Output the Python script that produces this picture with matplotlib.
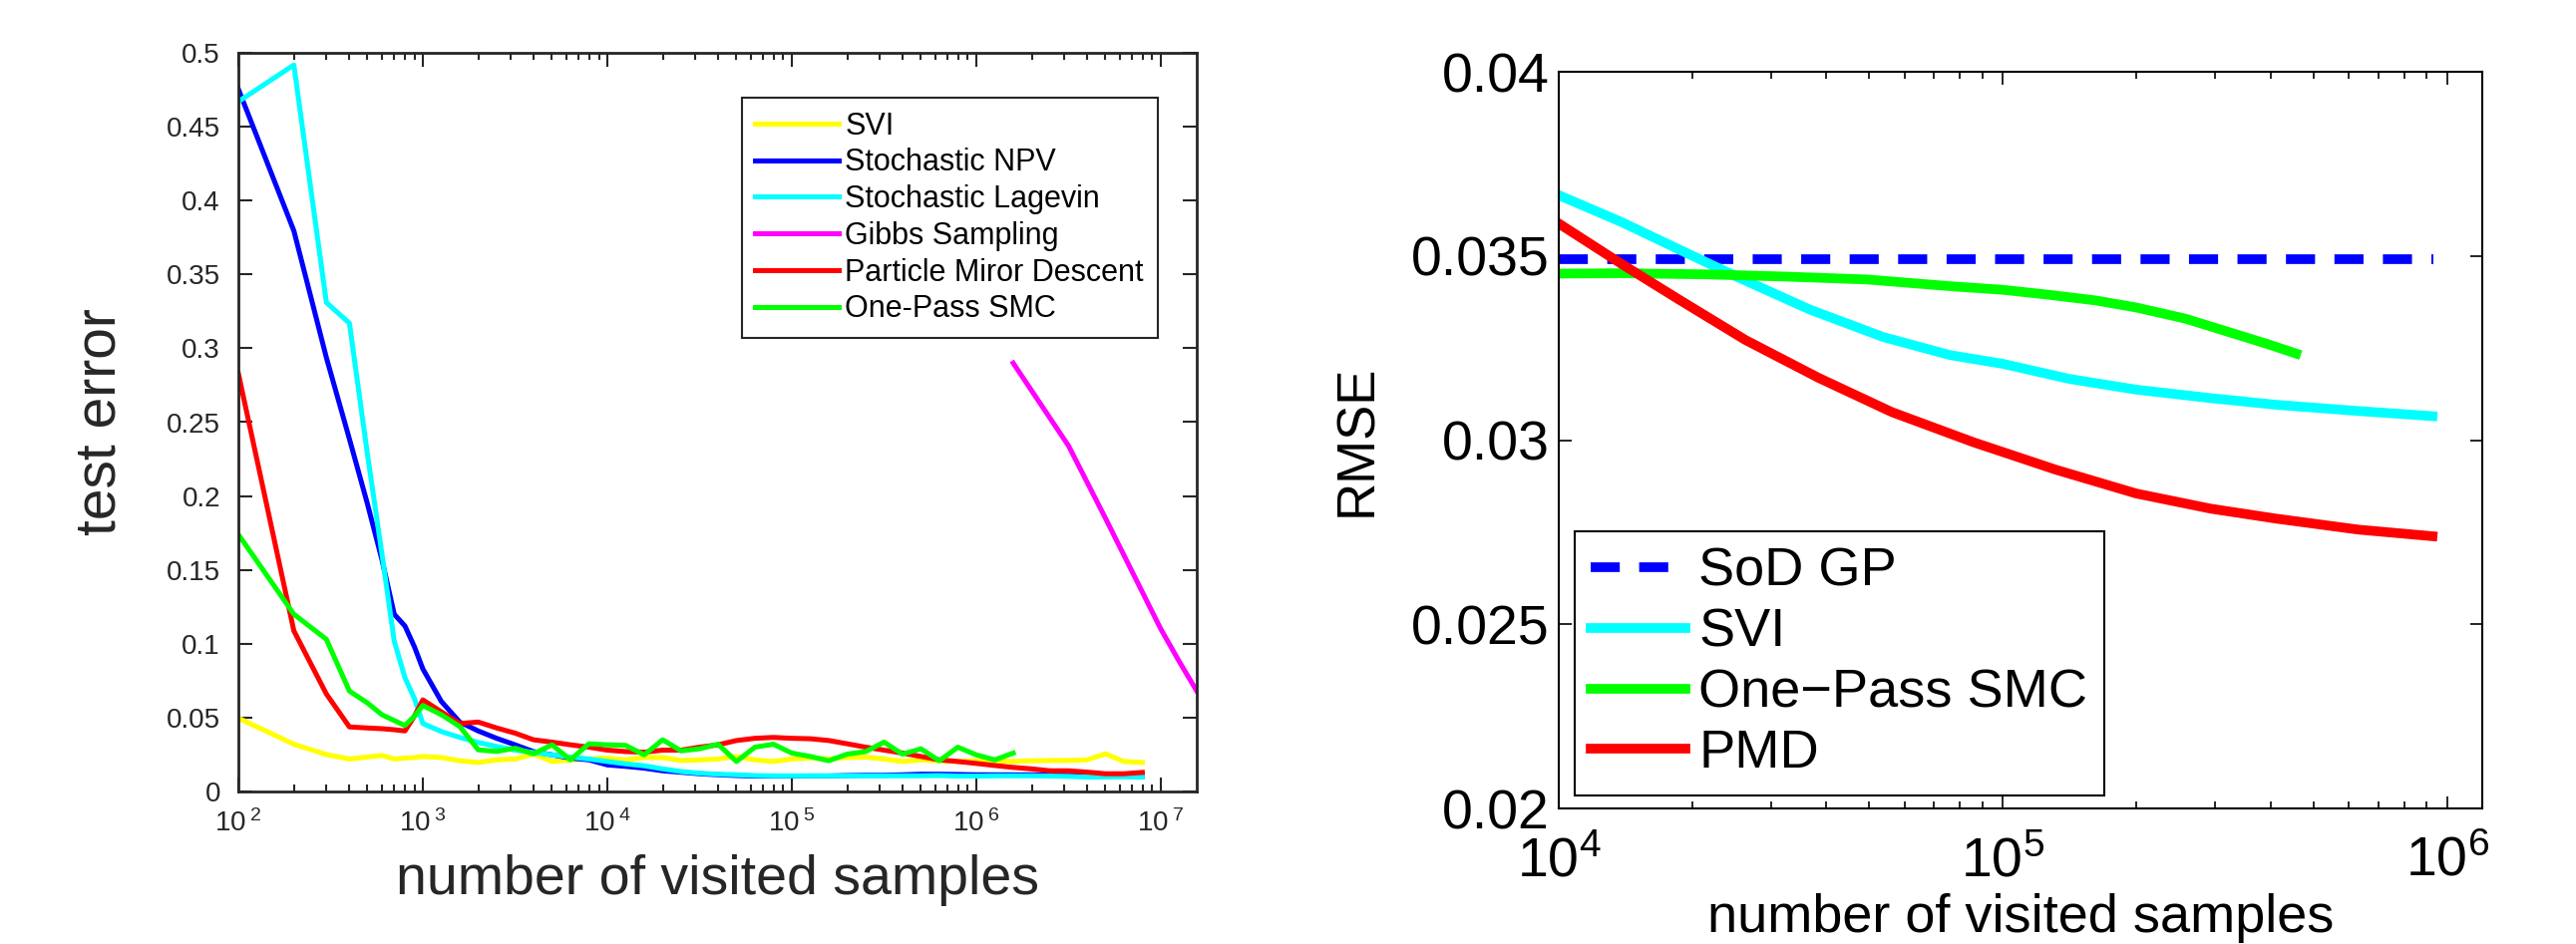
import numpy as np
import matplotlib
matplotlib.use("Agg")
import matplotlib.pyplot as plt
from matplotlib.ticker import LogLocator, FixedLocator, FixedFormatter, NullFormatter

plt.rcParams['font.family'] = ['Liberation Sans', 'DejaVu Sans']
plt.rcParams['mathtext.fontset'] = 'custom'
plt.rcParams['mathtext.rm'] = 'Liberation Sans'
plt.rcParams['mathtext.it'] = 'Liberation Sans'

# ---------- left panel data (test error) ----------
x_lo = [100, 200, 300, 400, 500, 600, 700, 800, 900]
exp_hi = [3.0, 3.1, 3.2, 3.3, 3.4, 3.5, 3.6, 3.7, 3.8, 3.9,
          4.0, 4.1, 4.2, 4.3, 4.4, 4.5, 4.6, 4.7, 4.8, 4.9,
          5.0, 5.1, 5.2, 5.3, 5.4, 5.5, 5.6, 5.7, 5.8, 5.9,
          6.0, 6.1, 6.2, 6.3, 6.4, 6.5, 6.6, 6.7, 6.8, 6.9]

svi_lo = [0.0497, 0.032, 0.025, 0.022, 0.0233, 0.0244, 0.022, 0.0226, 0.023]
svi_hi = [0.0237, 0.023, 0.0208, 0.0196, 0.0214, 0.022, 0.0253, 0.0203, 0.0214, 0.022,
          0.0226, 0.0214, 0.023, 0.023, 0.021, 0.0214, 0.022, 0.0237, 0.0214, 0.0203,
          0.022, 0.0226, 0.022, 0.023, 0.0233, 0.022, 0.0203, 0.0214, 0.0208, 0.0203,
          0.0208, 0.0208, 0.0203, 0.0208, 0.021, 0.021, 0.0214, 0.0255, 0.0203, 0.0196]

npv_lo = [0.4755, 0.3795, 0.2937, 0.2386, 0.195, 0.157, 0.12, 0.112, 0.098]
npv_hi = [0.083, 0.061, 0.047, 0.041, 0.036, 0.0316, 0.027, 0.0248, 0.0226, 0.0214,
          0.018, 0.017, 0.0158, 0.014, 0.013, 0.012, 0.0113, 0.0108, 0.0104, 0.0104,
          0.0104, 0.0105, 0.0105, 0.0108, 0.011, 0.011, 0.0113, 0.0117, 0.0117, 0.0115,
          0.0113, 0.0113, 0.0113, 0.0113, 0.0113, 0.011, 0.0108, 0.0106, 0.0104, 0.0104]

lang_lo = [0.467, 0.4918, 0.331, 0.317, 0.229, 0.161, 0.1017, 0.077, 0.063]
lang_hi = [0.046, 0.0406, 0.0366, 0.0332, 0.0305, 0.028, 0.0264, 0.0248, 0.0233, 0.022,
           0.0203, 0.0187, 0.0174, 0.0153, 0.0135, 0.0124, 0.0117, 0.0113, 0.0108, 0.0106,
           0.0106, 0.0106, 0.0106, 0.0106, 0.0106, 0.0106, 0.0106, 0.0106, 0.0108, 0.0104,
           0.0104, 0.0106, 0.0106, 0.0106, 0.0104, 0.0102, 0.0098, 0.0098, 0.0100, 0.0097]

pmd_lo = [0.283, 0.1087, 0.066, 0.0437, 0.043, 0.0425, 0.0418, 0.041, 0.051]
pmd_hi = [0.062, 0.054, 0.046, 0.047, 0.043, 0.0395, 0.035, 0.0334, 0.0316, 0.030,
          0.028, 0.027, 0.0266, 0.028, 0.028, 0.030, 0.0316, 0.0345, 0.036, 0.0366,
          0.036, 0.0357, 0.0345, 0.0323, 0.030, 0.028, 0.026, 0.0237, 0.0214, 0.0203,
          0.019, 0.0176, 0.0163, 0.0153, 0.014, 0.014, 0.0131, 0.012, 0.012, 0.0129]

smc_lo = [0.174, 0.120, 0.103, 0.068, 0.060, 0.052, 0.048, 0.0447, 0.051]
smc_hi = [0.0582, 0.052, 0.044, 0.0282, 0.0271, 0.0293, 0.0255, 0.0316, 0.0214, 0.0323,
          0.0316, 0.0312, 0.0248, 0.035, 0.0275, 0.0289, 0.032, 0.0203, 0.030, 0.032,
          0.026, 0.0237, 0.0208, 0.0253, 0.027, 0.0334, 0.0253, 0.0289, 0.0208, 0.030,
          0.0248, 0.0214, 0.026]

gibbs_exp = [6.2, 6.5, 6.7, 6.9, 7.0, 7.1, 7.195]
gibbs = [0.29, 0.234, 0.185, 0.135, 0.11, 0.088, 0.068]

# ---------- right panel data (RMSE) ----------
sod_x = [1e4, 9.3e5]
sod = [0.03491, 0.03491]
r_svi_exp = [4.0, 4.143, 4.27, 4.40, 4.566, 4.73, 4.88, 5.0, 5.15, 5.30, 5.467, 5.614, 5.80, 5.967]
r_svi = [0.03665, 0.03591, 0.03518, 0.03444, 0.03354, 0.0328, 0.03231, 0.03207,
         0.03166, 0.03137, 0.03114, 0.03096, 0.03079, 0.03065]
r_smc_exp = [4.0, 4.143, 4.33, 4.51, 4.695, 4.88, 5.0, 5.1, 5.21, 5.30, 5.41, 5.52, 5.595, 5.66]
r_smc = [0.03452, 0.03453, 0.03450, 0.03444, 0.03436, 0.03418, 0.03408, 0.03395,
         0.03379, 0.0336, 0.0333, 0.03289, 0.03261, 0.03235]
r_pmd_exp = [4.0, 4.143, 4.27, 4.42, 4.585, 4.75, 4.934, 5.118, 5.30, 5.467, 5.614, 5.80, 5.967]
r_pmd = [0.03588, 0.03477, 0.03382, 0.03272, 0.03169, 0.03076, 0.02994, 0.0292,
         0.02855, 0.02814, 0.02787, 0.02757, 0.02739]

W, H = 2583, 947
fig = plt.figure(figsize=(W / 100, H / 100), dpi=100)

# left axes (MATLAB 2014-style grey axes)
dark = '#262626'
ax = fig.add_axes([239 / W, (H - 794) / H, (1200 - 239) / W, (794 - 53) / H])
x_left = x_lo + [10 ** e for e in exp_hi]
lw = 3.6
ax.plot(x_left, svi_lo + svi_hi, color='#ffff00', lw=lw, label='SVI')
ax.plot(x_left, npv_lo + npv_hi, color='#0000ff', lw=lw, label='Stochastic NPV')
ax.plot(x_left, lang_lo + lang_hi, color='#00ffff', lw=lw, label='Stochastic Lagevin')
ax.plot([10 ** e for e in gibbs_exp], gibbs, color='#ff00ff', lw=lw, label='Gibbs Sampling')
ax.plot(x_left, pmd_lo + pmd_hi, color='#ff0000', lw=lw, label='Particle Miror Descent')
ax.plot(x_left[:len(smc_lo) + len(smc_hi)], smc_lo + smc_hi, color='#00ff00', lw=lw,
        label='One-Pass SMC')
ax.set_xscale('log')
ax.set_xlim(100, 10 ** 7.195)
ax.set_ylim(0, 0.5)
ax.yaxis.set_major_locator(FixedLocator(np.arange(0, 0.501, 0.05)))
ax.yaxis.set_major_formatter(FixedFormatter(['0', '0.05', '0.1', '0.15', '0.2', '0.25',
                                             '0.3', '0.35', '0.4', '0.45', '0.5']))
ax.xaxis.set_major_locator(FixedLocator([1e2, 1e3, 1e4, 1e5, 1e6, 1e7]))
ax.xaxis.set_major_formatter(FixedFormatter([r'$10^{\;%d}$' % k for k in range(2, 8)]))
ax.xaxis.set_minor_locator(LogLocator(base=10, subs=np.arange(2, 10), numticks=20))
ax.xaxis.set_minor_formatter(NullFormatter())
ax.tick_params(which='both', direction='in', top=True, right=True, colors=dark,
               labelsize=20, width=1.5)
ax.tick_params(which='major', length=10, pad=13)
ax.tick_params(which='minor', length=5)
for s in ax.spines.values():
    s.set_color(dark)
    s.set_linewidth(2)
ax.set_xlabel('number of visited samples', fontsize=40, color=dark, labelpad=12)
ax.set_ylabel('test error', fontsize=41, color=dark, labelpad=28)
leg = ax.legend(loc='upper right', bbox_to_anchor=(0.975, 0.96), fontsize=22,
                labelspacing=0.22, handlelength=2.75, handletextpad=0.2,
                borderpad=0.45, fancybox=False, framealpha=1)
leg.get_frame().set_edgecolor(dark)
leg.get_frame().set_linewidth(1.5)

# right axes
ax2 = fig.add_axes([1563 / W, (H - 811) / H, (2489 - 1563) / W, (811 - 72) / H])
lw2 = 7
ax2.plot(sod_x, sod, color='#0000ff', lw=lw2, ls=(0, (3, 2)), label='SoD GP')
ax2.plot([10 ** e for e in r_svi_exp], r_svi, color='#00ffff', lw=lw2, label='SVI')
ax2.plot([10 ** e for e in r_smc_exp], r_smc, color='#00ff00', lw=lw2, label='One\u2212Pass SMC')
ax2.plot([10 ** e for e in r_pmd_exp], r_pmd, color='#ff0000', lw=lw2, label='PMD')
ax2.set_xscale('log')
ax2.set_xlim(1e4, 10 ** 6.079)
ax2.set_ylim(0.02, 0.04)
ax2.yaxis.set_major_locator(FixedLocator([0.02, 0.025, 0.03, 0.035, 0.04]))
ax2.yaxis.set_major_formatter(FixedFormatter(['0.02', '0.025', '0.03', '0.035', '0.04']))
ax2.xaxis.set_major_locator(FixedLocator([1e4, 1e5, 1e6]))
ax2.xaxis.set_major_formatter(FixedFormatter([r'$10^{4}$', r'$10^{5}$', r'$10^{6}$']))
ax2.xaxis.set_minor_locator(LogLocator(base=10, subs=np.arange(2, 10), numticks=20))
ax2.xaxis.set_minor_formatter(NullFormatter())
ax2.tick_params(which='both', direction='in', top=True, right=True, colors='black',
                labelsize=40, width=1.2)
ax2.tick_params(axis='y', which='major', length=9, pad=7)
ax2.tick_params(axis='x', which='major', length=9, pad=20)
ax2.tick_params(which='minor', length=5)
for s in ax2.spines.values():
    s.set_linewidth(1.5)
ax2.set_xlabel('number of visited samples', fontsize=39, labelpad=4)
ax2.set_ylabel('RMSE', fontsize=38, labelpad=20)
leg2 = ax2.legend(loc='lower left', bbox_to_anchor=(0.017, 0.018), borderaxespad=0,
                  fontsize=39, labelspacing=0.2, handlelength=1.75, handletextpad=0.25,
                  borderpad=0.3, fancybox=False, framealpha=1)
leg2.get_frame().set_edgecolor('black')
leg2.get_frame().set_linewidth(1.5)

fig.savefig('out.png', dpi=100)
